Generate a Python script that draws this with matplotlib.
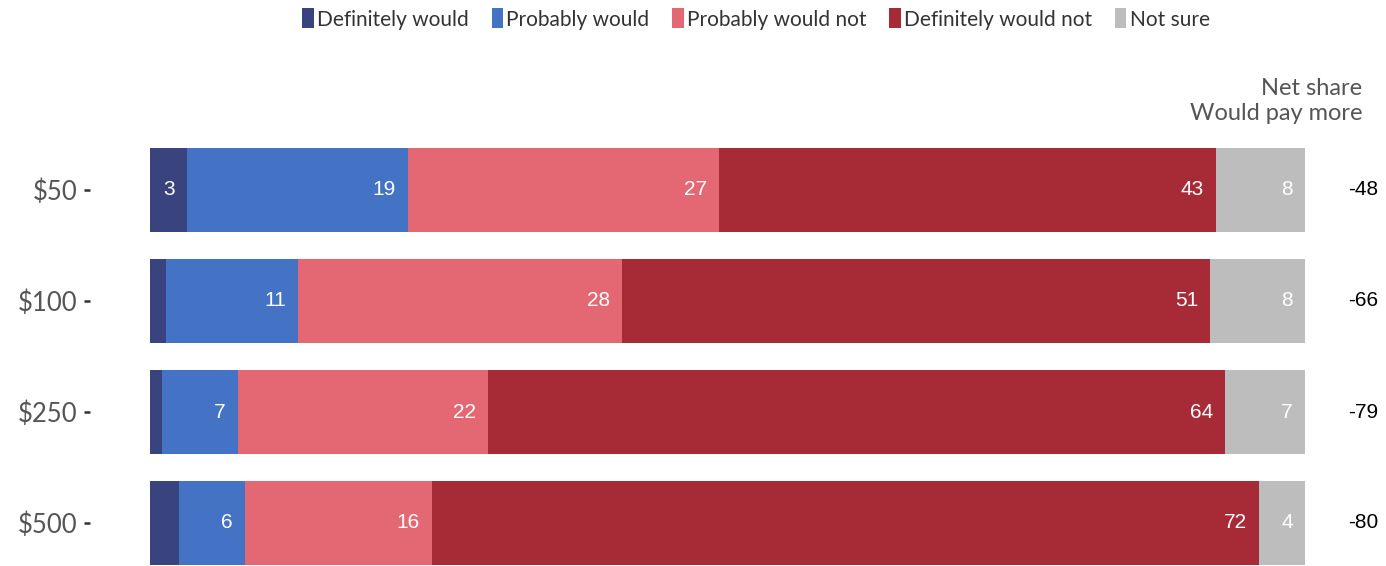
import numpy as np
import matplotlib
matplotlib.use("Agg")
import matplotlib.pyplot as plt
from matplotlib.patches import Patch

# data (percent of respondents)
prices = ["$50", "$100", "$250", "$500"]
categories = ["Definitely would", "Probably would", "Probably would not",
              "Definitely would not", "Not sure"]
definitely_would = [3.2, 1.4, 1.0, 2.5]
probably_would = [19.1, 11.4, 6.6, 5.7]
probably_not = [27.0, 28.1, 21.7, 16.2]
definitely_not = [43.0, 50.9, 63.8, 71.6]
not_sure = [7.7, 8.2, 6.9, 4.0]
net_share = [-48, -66, -79, -80]

colors = ["#39447e", "#4472c4", "#e46874", "#a62b36", "#bdbdbd"]
series = [definitely_would, probably_would, probably_not, definitely_not, not_sure]

W, H = 1386, 566
fig = plt.figure(figsize=(W / 100, H / 100), dpi=100)
ax = fig.add_axes([150 / W, 0, 1155 / W, (566 - 135) / H])

y = np.arange(len(prices))
left = np.zeros(len(prices))
for vals, col in zip(series, colors):
    vals = np.array(vals)
    ax.barh(y, vals, left=left, height=0.75, color=col, linewidth=0)
    for yi, (l, v) in enumerate(zip(left, vals)):
        if v >= 3:
            ax.annotate(str(int(round(v))), xy=(l + v, yi), xytext=(-12, 0),
                        textcoords="offset pixels", ha="right", va="center",
                        color="white", fontsize=15, family="Liberation Sans")
    left += vals

# net share column
for yi, n in enumerate(net_share):
    ax.annotate(str(n), xy=(100, yi), xycoords="data", xytext=(58, 0),
                textcoords="offset pixels", ha="center", va="center",
                fontsize=15, color="black", family="Liberation Sans",
                annotation_clip=False)

fig.text(1362 / W, 1 - 101 / H, "Net share\nWould pay more", ha="right", va="center",
         fontsize=17, color="#555555", family="Lato", linespacing=1.2)

ax.set_xlim(0, 100)
ax.set_ylim((566 - 190) / 111, (135 - 190) / 111)
ax.set_yticks(y)
ax.set_yticklabels(prices)
ax.set_xticks([])
for s in ["top", "right", "bottom"]:
    ax.spines[s].set_visible(False)
ax.spines["left"].set_position(("outward", 60 * 0.72))
ax.spines["left"].set_visible(False)
ax.tick_params(axis="y", length=4.3, width=1.8, color="#333333", pad=5,
               labelsize=18.5, labelcolor="#555555")
for t in ax.get_yticklabels():
    t.set_family("Lato")

handles = [Patch(facecolor=c, edgecolor="none") for c in colors]
fig.legend(handles, categories, loc="center", bbox_to_anchor=(756 / W, 1 - 19 / H),
           ncol=5, frameon=False, handlelength=0.55, handleheight=1.1,
           handletextpad=0.15, columnspacing=1.1,
           prop={"family": "Lato", "size": 15})
for t in fig.legends[0].get_texts():
    t.set_color("#333333")

fig.savefig("out.png", dpi=100)
